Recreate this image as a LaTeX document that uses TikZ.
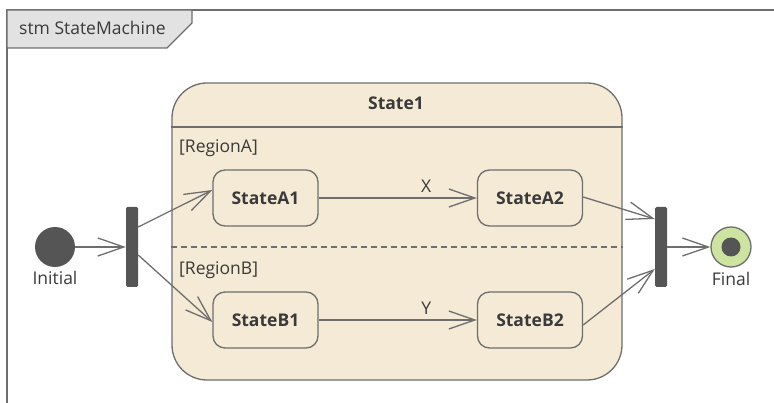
\documentclass[tikz,border=0pt]{standalone}
\usepackage{fontspec}
\setmainfont{Open Sans}
\usetikzlibrary{arrows.meta, positioning}

\definecolor{linegray}{HTML}{6E6E6E}
\definecolor{bargray}{HTML}{555555}
\definecolor{statefill}{HTML}{F4EAD6}
\definecolor{tabfill}{HTML}{E2E2E2}
\definecolor{finalgreen}{HTML}{CDE3A0}
\definecolor{textgray}{HTML}{3A3A3A}
\newcommand\uifont{\fontsize{17.5}{19}\selectfont}

\begin{document}
\begin{tikzpicture}[
    x=1pt, y=-1pt,
    state/.style={rectangle, rounded corners=12pt, draw=linegray, line width=1.3pt, fill=statefill,
                  minimum width=105pt, minimum height=56pt, font=\uifont\bfseries, text=textgray},
    bar/.style={rectangle, rounded corners=1.5pt, fill=bargray, minimum width=12pt,
                minimum height=80pt, inner sep=0pt},
    trans/.style={-{Straight Barb[length=26pt,width=18pt]}, line width=1.3pt, draw=linegray},
    lbl/.style={font=\uifont, text=textgray, inner sep=1pt}
  ]
    \useasboundingbox (0,0) rectangle (774,403);

    % frame and name tab
    \draw[linegray, line width=1.6pt] (7,410) -- (7,10) -- (780,10);
    \draw[linegray, line width=1.1pt, fill=tabfill] (7,10) -- (192,10) -- (192,23) -- (167,48) -- (7,48) -- cycle;
    \node[lbl, anchor=west] (title) at (18,28) {stm StateMachine};

    % composite state
    \node[rectangle, rounded corners=35pt, draw=linegray, line width=1.3pt, fill=statefill,
          minimum width=450pt, minimum height=297pt] (state1) at (397,231.5) {};
    \node[lbl, font=\uifont\bfseries] (s1name) at (396,103) {State1};
    \draw[linegray, line width=1.3pt] (state1.west |- 0,127) -- (state1.east |- 0,127);
    \draw[linegray, line width=1.3pt, dashed, dash pattern=on 6pt off 4pt] (state1.west |- 0,247) -- (state1.east |- 0,247);
    \node[lbl, anchor=west] (rega) at (178,148) {[RegionA]};
    \node[lbl, anchor=west] (regb) at (178,270) {[RegionB]};

    \node[state] (sa1) at (265.5,198) {StateA1};
    \node[state] (sa2) at (530,198) {StateA2};
    \node[state] (sb1) at (265.5,320) {StateB1};
    \node[state] (sb2) at (530,320) {StateB2};

    % pseudostates
    \node[circle, fill=bargray, minimum size=40pt, inner sep=0pt] (init) at (55,247) {};
    \node[lbl, below=3pt of init] (initlbl) {Initial};
    \node[bar] (fork) at (132,247) {};
    \node[bar] (join) at (661,247) {};
    \node[circle, draw=linegray, line width=1.3pt, fill=finalgreen, minimum size=40pt, inner sep=0pt] (final) at (731,247) {};
    \node[circle, fill=bargray, minimum size=19pt, inner sep=0pt] (finaldot) at (final) {};
    \node[lbl, below=3pt of final] (finallbl) {Final};

    % transitions
    \draw[trans] (init) -- (fork);
    \draw[trans] ([yshift=20pt]fork.east) -- ([yshift=8pt]sa1.west);
    \draw[trans] ([yshift=-8pt]fork.east) -- ([yshift=-2pt]sb1.west);
    \draw[trans] (sa1) -- node[lbl, pos=0.68, above=4pt] {X} (sa2);
    \draw[trans] (sb1) -- node[lbl, pos=0.68, above=4pt] {Y} (sb2);
    \draw[trans] ([yshift=1pt]sa2.east) -- ([yshift=28pt]join.west);
    \draw[trans] ([yshift=-5pt]sb2.east) -- ([yshift=-22pt]join.west);
    \draw[trans] (join) -- (final);
  \end{tikzpicture}
\end{document}
